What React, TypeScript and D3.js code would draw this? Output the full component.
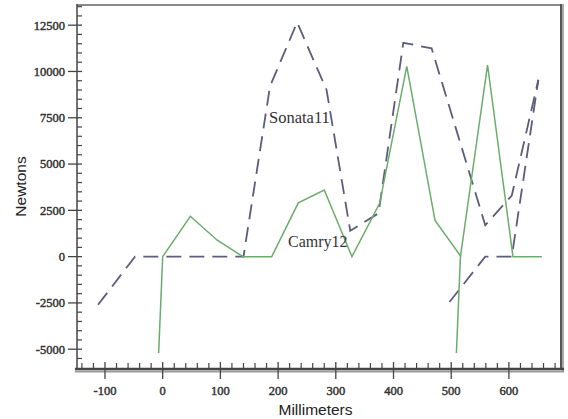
import React from "react";
import * as d3 from "d3";

const camryX1 = [-7, 0, 48, 94, 139, 189, 235, 280, 328, 376, 423, 472, 517];
const camryY1 = [-5200, 0, 2180, 900, 0, 0, 2900, 3600, 0, 2880, 10280, 1950, 0];
const camryX2 = [509, 516, 563, 607, 657];
const camryY2 = [-5200, 0, 10350, 0, 0];
const sonataX1 = [-112, -48, 140, 186, 233, 284, 325, 374, 417, 466, 559, 605, 651];
const sonataY1 = [-2600, 0, 0, 9200, 12650, 9000, 1400, 2340, 11550, 11250, 1700, 3300, 9550];
const sonataX2 = [497, 559, 605, 651];
const sonataY2 = [-2450, 0, 0, 9550];

const xMajorTicks = [-100, 0, 100, 200, 300, 400, 500, 600];
const yMajorTicks = [-5000, -2500, 0, 2500, 5000, 7500, 10000, 12500];

const W = 568;
const H = 419;
const L = 77;
const R = 562;
const T = 5;
const B = 370;

export default function App() {
  const x = d3.scaleLinear().domain([-148.5, 692]).range([L, R]);
  const y = d3.scaleLinear().domain([-6123, 13590]).range([B, T]);
  const line = d3
    .line<[number, number]>()
    .x((d) => x(d[0]))
    .y((d) => y(d[1]));
  const zip = (a: number[], b: number[]) => a.map((v, i) => [v, b[i]] as [number, number]);

  const xMinor = d3.range(-140, 681, 20).filter((v) => v % 100 !== 0);
  const yMinor = d3.range(-5500, 13501, 500).filter((v) => v % 2500 !== 0);

  const green = "#6aad6a";
  const slate = "#5c5c7c";
  const tickFont = {
    fontFamily: "'Liberation Serif', 'Times New Roman', serif",
    fontSize: 12.5,
    fill: "#333",
    stroke: "#333",
    strokeWidth: 0.45,
  };

  return (
    <svg width={W} height={H} style={{ position: "absolute", left: 0, top: 0, background: "#fff" }}>
      <rect x={0} y={0} width={W} height={H} fill="#fff" />
      {/* frame */}
      <line x1={L} x2={R} y1={T} y2={T} stroke="#888" strokeWidth={2} />
      <line x1={R - 1} x2={R - 1} y1={T - 1} y2={B} stroke="#555" strokeWidth={2} />
      <line x1={R + 1} x2={R + 1} y1={T - 1} y2={B + 2} stroke="#aaa" strokeWidth={2} />
      {/* y axis */}
      <line x1={L} x2={L} y1={T - 1} y2={B} stroke="#444" strokeWidth={1.5} />
      {yMajorTicks.map((v) => (
        <g key={"ym" + v}>
          <line x1={L - 9} x2={L + 5} y1={y(v)} y2={y(v)} stroke="#444" strokeWidth={1.3} />
          <text x={L - 12} y={y(v)} dy="0.35em" textAnchor="end" style={tickFont}>
            {v}
          </text>
        </g>
      ))}
      {yMinor.map((v) => (
        <line key={"yn" + v} x1={L} x2={L + 5} y1={y(v)} y2={y(v)} stroke="#444" strokeWidth={1.2} />
      ))}
      {/* x axis */}
      <line x1={L - 2} x2={R + 2} y1={B - 1} y2={B - 1} stroke="#444" strokeWidth={2.5} />
      <line x1={L - 2} x2={R + 2} y1={B + 1.5} y2={B + 1.5} stroke="#999" strokeWidth={2} />
      {xMinor.map((v) => (
        <line key={"xn" + v} x1={x(v)} x2={x(v)} y1={B - 7} y2={B} stroke="#444" strokeWidth={1.2} />
      ))}
      {xMajorTicks.map((v) => (
        <g key={"xm" + v}>
          <line x1={x(v)} x2={x(v)} y1={B - 8} y2={B + 9} stroke="#444" strokeWidth={1.3} />
          <text x={x(v)} y={395} textAnchor="middle" style={tickFont}>
            {v}
          </text>
        </g>
      ))}
      {/* series */}
      <path d={line(zip(sonataX1, sonataY1)) || ""} fill="none" stroke={slate} strokeWidth={1.8} strokeDasharray="15,8" />
      <path d={line(zip(sonataX2, sonataY2)) || ""} fill="none" stroke={slate} strokeWidth={1.8} strokeDasharray="15,8" />
      <path d={line(zip(camryX1, camryY1)) || ""} fill="none" stroke={green} strokeWidth={1.5} />
      <path d={line(zip(camryX2, camryY2)) || ""} fill="none" stroke={green} strokeWidth={1.5} />
      {/* labels */}
      <text x={269} y={123} style={{ fontFamily: "'Liberation Serif', serif", fontSize: 16.5, fill: "#333" }}>
        Sonata11
      </text>
      <text x={288} y={246.5} style={{ fontFamily: "'Liberation Serif', serif", fontSize: 16, fill: "#333" }}>
        Camry12
      </text>
      <text x={315.5} y={415} textAnchor="middle" style={{ fontFamily: "'Liberation Sans', Arial, sans-serif", fontSize: 15.5, fill: "#222" }}>
        Millimeters
      </text>
      <text
        transform="translate(26,186.5) rotate(-90)"
        textAnchor="middle"
        style={{ fontFamily: "'Liberation Sans', Arial, sans-serif", fontSize: 15.5, fill: "#222" }}
      >
        Newtons
      </text>
    </svg>
  );
}
